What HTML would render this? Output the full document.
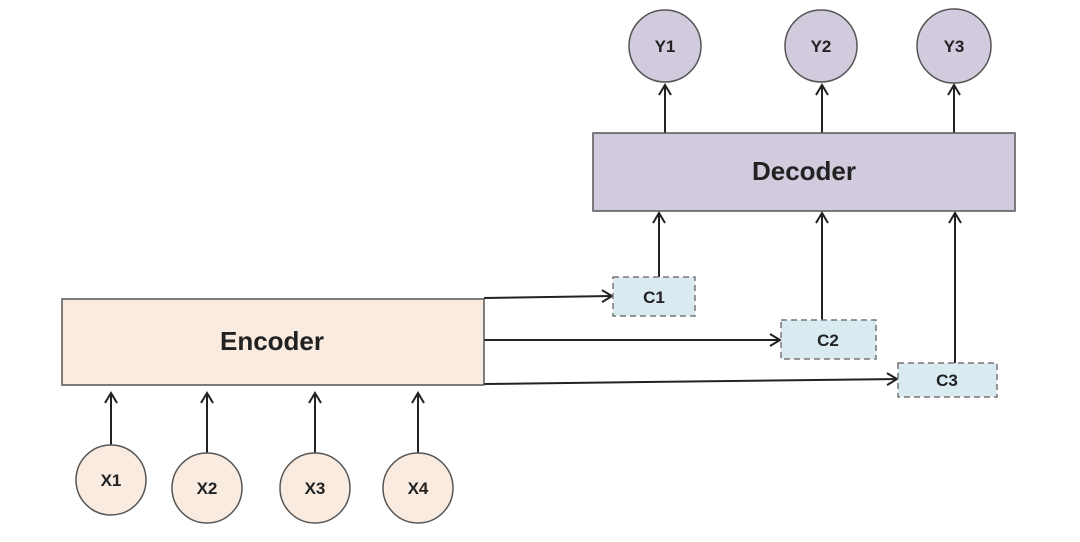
<!DOCTYPE html>
<html><head><meta charset="utf-8"><style>body{margin:0;background:#fff}</style></head><body>
<svg width="1080" height="537" viewBox="0 0 1080 537" xmlns="http://www.w3.org/2000/svg" font-family="Liberation Sans, sans-serif" font-weight="bold">
<defs><marker id="a" markerWidth="14" markerHeight="14" refX="11" refY="7" orient="auto" markerUnits="userSpaceOnUse"><path d="M1,1 L11,7 L1,13" fill="none" stroke="#222" stroke-width="2"/></marker></defs>
<g stroke="#222" stroke-width="2" fill="none" marker-end="url(#a)">
<line x1="665" y1="133" x2="665" y2="85"/>
<line x1="822" y1="133" x2="822" y2="85"/>
<line x1="954" y1="133" x2="954" y2="85"/>
<line x1="659" y1="277" x2="659" y2="213"/>
<line x1="822" y1="320" x2="822" y2="213"/>
<line x1="955" y1="363" x2="955" y2="213"/>
<line x1="484" y1="298" x2="612" y2="296"/>
<line x1="484" y1="340" x2="780" y2="340"/>
<line x1="484" y1="384" x2="897" y2="379"/>
<line x1="111" y1="446" x2="111" y2="393"/>
<line x1="207" y1="453" x2="207" y2="393"/>
<line x1="315" y1="453" x2="315" y2="393"/>
<line x1="418" y1="453" x2="418" y2="393"/>
</g>
<g fill="#d2cbde" stroke="#555" stroke-width="1.5">
<circle cx="665" cy="46" r="36"/><circle cx="821" cy="46" r="36"/><circle cx="954" cy="46" r="37"/>
<rect x="593" y="133" width="422" height="78"/>
</g>
<g fill="#f9ebe0" stroke="#555" stroke-width="1.5">
<rect x="62" y="299" width="422" height="86"/>
<circle cx="111" cy="480" r="35"/><circle cx="207" cy="488" r="35"/><circle cx="315" cy="488" r="35"/><circle cx="418" cy="488" r="35"/>
</g>
<g fill="#d9eaf0" stroke="#777" stroke-width="1.5" stroke-dasharray="6,4">
<rect x="613" y="277" width="82" height="39"/>
<rect x="781" y="320" width="95" height="39"/>
<rect x="898" y="363" width="99" height="34"/>
</g>
<g fill="#222" text-anchor="middle" font-size="17">
<text x="665" y="52">Y1</text><text x="821" y="52">Y2</text><text x="954" y="52">Y3</text>
<text x="111" y="486">X1</text><text x="207" y="494">X2</text><text x="315" y="494">X3</text><text x="418" y="494">X4</text>
<text x="654" y="303">C1</text><text x="828" y="346">C2</text><text x="947" y="386">C3</text>
<text x="804" y="180" font-size="26">Decoder</text>
<text x="272" y="350" font-size="26">Encoder</text>
</g>
</svg>
</body></html>
